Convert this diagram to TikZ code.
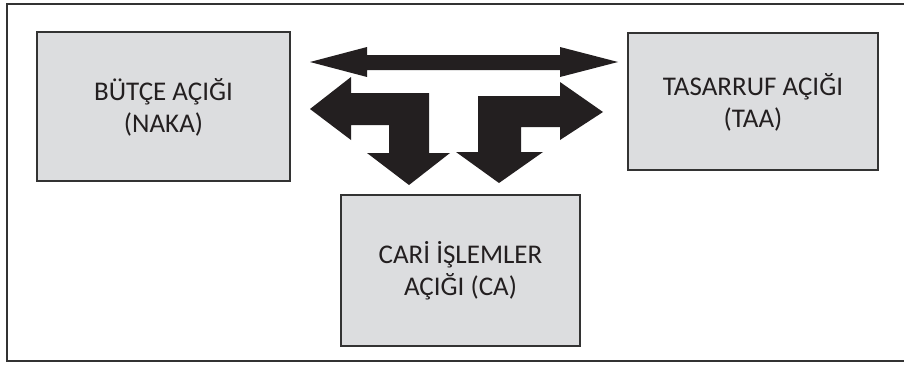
\documentclass[tikz,border=0pt]{standalone}
\usepackage{fontspec}
\setmainfont{Carlito}
\definecolor{boxfill}{HTML}{DCDDDF}
\definecolor{boxline}{HTML}{333333}
\definecolor{arrowfill}{HTML}{231F20}
\definecolor{textcol}{HTML}{231F20}
\begin{document}
\begin{tikzpicture}[x=1pt,y=-1pt,
  blockbox/.style={draw=boxline,line width=2pt,fill=boxfill},
  blocktext/.style={align=center,text=textcol,font=\fontsize{27}{32}\selectfont},
  bigarrow/.style={fill=arrowfill,draw=none}]
\useasboundingbox (0,0) rectangle (904,364);
% frame
\draw[boxline,line width=1.8pt] (906,4) -- (7,4) -- (7,361) -- (906,361);
% boxes
\draw[blockbox] (37,32) rectangle (290,181);
\node[blocktext] (naka) at (163.5,107) {BÜTÇE AÇIĞI\\(NAKA)};
\draw[blockbox] (628,33) rectangle (878,170);
\node[blocktext] (taa) at (753,102) {TASARRUF AÇIĞI\\(TAA)};
\draw[blockbox] (341,195) rectangle (580,346);
\node[blocktext] (ca) at (460.5,271) {CARİ İŞLEMLER\\AÇIĞI (CA)};
% arrows
\fill[bigarrow] (310,62) -- (367,47) -- (367,55) -- (560,55) -- (560,47) -- (618,62) -- (560,77) -- (560,70) -- (367,70) -- (367,77) -- cycle;
\fill[bigarrow] (310,109) -- (351,77) -- (351,93) -- (429,93) -- (429,153) -- (450,153) -- (409,185) -- (367,153) -- (389,153) -- (389,125) -- (351,125) -- (351,140) -- cycle;
\fill[bigarrow] (603,112) -- (560,82) -- (560,96) -- (478,96) -- (478,152) -- (456,152) -- (499,183) -- (543,152) -- (521,152) -- (521,127) -- (560,127) -- (560,140) -- cycle;
\end{tikzpicture}
\end{document}
